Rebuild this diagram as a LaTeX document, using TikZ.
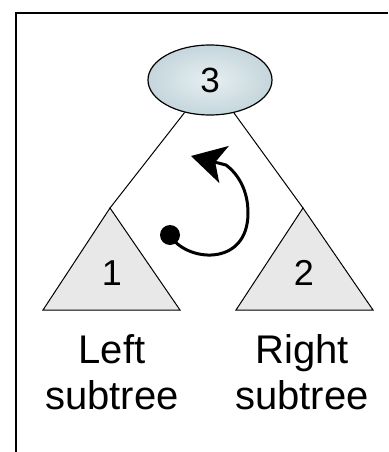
\documentclass[tikz,border=0pt]{standalone}
\usepackage{fontspec}
\setmainfont{Liberation Sans}
\usetikzlibrary{shapes,arrows.meta,positioning}

\definecolor{rootblue}{RGB}{196,214,220}
\definecolor{subgray}{RGB}{232,232,232}

\begin{document}
\begin{tikzpicture}[x=1pt, y=-1pt,
    root/.style={ellipse, draw, line width=1.2pt, minimum width=124pt, minimum height=70pt,
        inner color=rootblue!40, outer color=rootblue, font=\fontsize{35}{35}\selectfont},
    sub/.style={draw, line width=1pt, fill=subgray, line join=miter},
    subnum/.style={font=\fontsize{36}{36}\selectfont},
    caption/.style={align=center, font=\fontsize{40}{46}\selectfont},
    edge/.style={line width=1pt},
    turn/.style={line width=3pt, -{Stealth[length=34pt, width=38pt, inset=9pt]}}]

    \useasboundingbox (0,0) rectangle (388,452);
    % frame
    \draw[line width=2pt] (16,452) -- (16,13) -- (388,13);

    \node[root] (root) at (210,80) {3};

    % subtrees
    \coordinate (ltop) at (110,208);
    \coordinate (rtop) at (303,208);
    \draw[sub] (ltop) -- (43,310) -- (180,310) -- cycle;
    \draw[sub] (rtop) -- (236,310) -- (373,310) -- cycle;
    \node[subnum] (one) at (112,273) {1};
    \node[subnum] (two) at (304,273) {2};

    \draw[edge] (root) -- (ltop);
    \draw[edge] (root) -- (rtop);

    \node[caption] (lcap) at (112,372) {Left\\subtree};
    \node[caption] (rcap) at (302,372) {Right\\subtree};

    % rotation
    \coordinate (dot) at (170,235);
    \coordinate (tip) at (191,156);
    \fill (dot) circle (10pt);
    \draw[turn] (dot) .. controls (185,262) and (248,268) .. (248,213)
        .. controls (248,190) and (238,174) .. (226,165) -- (tip);
\end{tikzpicture}
\end{document}
